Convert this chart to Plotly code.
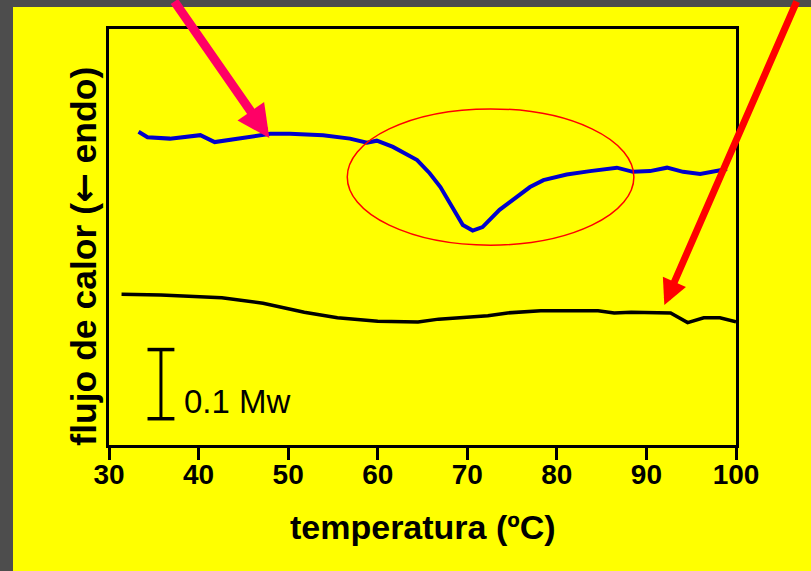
import plotly.graph_objects as go

# ---- data (temperature in ºC, heat flow in mW, arbitrary offset) ----
blue_T = [33.3, 34.3, 36.8, 40.2, 41.8, 44.6, 48.0, 50.2, 53.9, 56.9, 58.8, 59.9,
          61.7, 64.4, 65.8, 67.0, 68.1, 69.5, 70.6, 71.7, 73.6, 75.5, 77.0, 78.5,
          81.1, 83.7, 86.7, 88.5, 90.4, 92.3, 94.1, 96.0, 97.4, 99.0]
blue_q = [0.450, 0.442, 0.440, 0.445, 0.435, 0.441, 0.447, 0.447, 0.445, 0.440, 0.434, 0.437,
          0.428, 0.409, 0.390, 0.370, 0.347, 0.315, 0.307, 0.312, 0.337, 0.356, 0.370, 0.380,
          0.388, 0.393, 0.398, 0.392, 0.393, 0.398, 0.392, 0.389, 0.392, 0.396]

black_T = [31.4, 35.8, 42.6, 47.2, 51.8, 55.5, 60.0, 64.5, 66.8, 72.3, 74.5, 78.2,
           84.6, 86.4, 88.3, 92.7, 94.6, 96.4, 98.2, 100.0]
black_q = [0.215, 0.214, 0.210, 0.202, 0.189, 0.181, 0.176, 0.175, 0.179, 0.184, 0.188, 0.191,
           0.191, 0.188, 0.189, 0.188, 0.174, 0.181, 0.181, 0.175]

x_ticks = [30, 40, 50, 60, 70, 80, 90, 100]
x_title = "temperatura (ºC)"
y_title_a = "flujo de calor ("
y_title_arrow = "←"
y_title_b = " endo)"
scale_label = "0.1 Mw"
scale_value = 0.1

# annotation anchors (data units)
ellipse_T = [56.6, 88.6]
ellipse_q = [0.286, 0.483]
scale_T = 35.8
scale_q0 = 0.035
pink_tip = (47.9, 0.441)
red_tip = (92.0, 0.1995)

FONT = "Arial, Liberation Sans, sans-serif"
YELLOW = "#FFFF00"

fig = go.Figure()
fig.add_trace(go.Scatter(x=blue_T, y=blue_q, mode="lines",
                         line=dict(color="#0000CC", width=4), showlegend=False))
fig.add_trace(go.Scatter(x=black_T, y=black_q, mode="lines",
                         line=dict(color="#000000", width=3.5), showlegend=False))

shapes = [
    # yellow slide background leaving a grey frame top/left
    dict(type="rect", xref="paper", yref="paper", x0=-0.1531, x1=1.5, y0=-1, y1=1.0529,
         fillcolor=YELLOW, line=dict(width=0), layer="below"),
    # ellipse highlighting the endotherm
    dict(type="circle", xref="x", yref="y", x0=ellipse_T[0], x1=ellipse_T[1],
         y0=ellipse_q[0], y1=ellipse_q[1], line=dict(color="#FF0000", width=1.5)),
    # scale bar
    dict(type="line", xref="x", yref="y", x0=scale_T, x1=scale_T,
         y0=scale_q0, y1=scale_q0 + scale_value, line=dict(color="black", width=3)),
    dict(type="line", xref="x", yref="y", x0=scale_T - 1.5, x1=scale_T + 1.5,
         y0=scale_q0, y1=scale_q0, line=dict(color="black", width=3.5)),
    dict(type="line", xref="x", yref="y", x0=scale_T - 1.5, x1=scale_T + 1.5,
         y0=scale_q0 + scale_value, y1=scale_q0 + scale_value, line=dict(color="black", width=3.5)),
]

y_title = (y_title_a + "<span style='font-family:DejaVu Sans'>" + y_title_arrow
           + "</span>" + y_title_b)

annotations = [
    dict(x=scale_T + 2.4, y=scale_q0 + 0.025, xref="x", yref="y", text=scale_label,
         showarrow=False, xanchor="left", yanchor="middle",
         font=dict(family=FONT, size=33, color="black")),
    dict(x=0.5, y=-0.196, xref="paper", yref="paper", text=x_title, showarrow=False,
         xanchor="center", yanchor="middle",
         font=dict(family=FONT, size=34, color="black", weight="bold")),
    dict(x=-0.04, y=0.455, xref="paper", yref="paper", text=y_title, showarrow=False,
         textangle=-90, xanchor="center", yanchor="middle",
         font=dict(family=FONT, size=35.5, color="black", weight="bold")),
    dict(x=pink_tip[0], y=pink_tip[1], xref="x", yref="y", text="", showarrow=True,
         ax=-96, ay=-152, arrowcolor="#FF0066", arrowwidth=9, arrowhead=2, arrowsize=0.72,
         standoff=0),
    dict(x=red_tip[0], y=red_tip[1], xref="x", yref="y", text="", showarrow=True,
         ax=133, ay=-320, arrowcolor="#FF0000", arrowwidth=7, arrowhead=2, arrowsize=0.72,
         standoff=0),
]

fig.update_layout(
    width=811, height=571,
    margin=dict(l=109, r=75, t=29, b=126),
    paper_bgcolor="#4D4D4D",
    plot_bgcolor=YELLOW,
    shapes=shapes,
    annotations=annotations,
    xaxis=dict(range=[30, 100], tickvals=x_ticks, ticktext=[str(v) for v in x_ticks],
               showgrid=False, zeroline=False, showline=True, linecolor="black", linewidth=3,
               mirror=True, ticks="outside", ticklen=12, tickwidth=3, tickcolor="black",
               ticklabelstandoff=-10,
               tickfont=dict(family=FONT, size=28, color="black", weight="bold")),
    yaxis=dict(range=[-0.003, 0.5985], showgrid=False, zeroline=False, showline=True,
               linecolor="black", linewidth=3, mirror=True, ticks="", showticklabels=False),
)

fig.write_html("out.html", config={"displayModeBar": False},
               post_script="document.body.style.margin='0';document.body.style.overflow='hidden';")
